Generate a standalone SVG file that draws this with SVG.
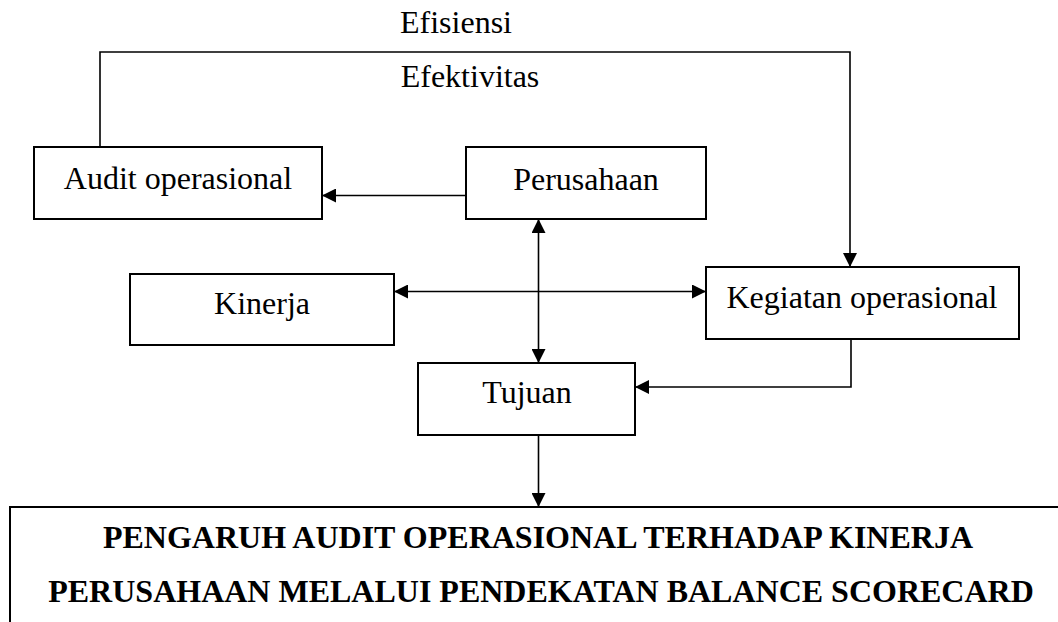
<svg xmlns="http://www.w3.org/2000/svg" width="1058" height="622" viewBox="0 0 1058 622">
<style>
.box{fill:#fff;stroke:#000;stroke-width:2}
.t{font-family:"Liberation Serif","Times New Roman",serif;font-size:32px;fill:#000;text-anchor:middle}
.b{font-weight:bold}
.c{fill:none;stroke:#000;stroke-width:1.6}
</style>
<defs>
<marker id="ah" viewBox="0 0 10 10" refX="10" refY="5" markerWidth="14" markerHeight="14" markerUnits="userSpaceOnUse" orient="auto-start-reverse">
<path d="M0,0 L10,5 L0,10 Z" fill="#000"/>
</marker>
</defs>
<rect width="1058" height="622" fill="#fff"/>
<g id="connectors">
<path class="c" d="M100,147 V52 H850 V267" marker-end="url(#ah)"/>
<path class="c" d="M466,195.5 H322" marker-end="url(#ah)"/>
<path class="c" d="M538.5,219 V363" marker-start="url(#ah)" marker-end="url(#ah)"/>
<path class="c" d="M394,291.5 H706" marker-start="url(#ah)" marker-end="url(#ah)"/>
<path class="c" d="M851,339 V387 H635" marker-end="url(#ah)"/>
<path class="c" d="M538.5,435 V507" marker-end="url(#ah)"/>
</g>
<g id="label-efisiensi"><text class="t" x="456" y="33">Efisiensi</text></g>
<g id="label-efektivitas"><text class="t" x="470" y="87">Efektivitas</text></g>
<g id="audit"><rect class="box" x="34" y="147" width="288" height="72"/><text class="t" x="178" y="189">Audit operasional</text></g>
<g id="perusahaan"><rect class="box" x="466" y="147" width="240" height="72"/><text class="t" x="586" y="190">Perusahaan</text></g>
<g id="kinerja"><rect class="box" x="130" y="274" width="264" height="71"/><text class="t" x="262" y="314">Kinerja</text></g>
<g id="kegiatan"><rect class="box" x="706" y="267" width="313" height="72"/><text class="t" x="862" y="308">Kegiatan operasional</text></g>
<g id="tujuan"><rect class="box" x="418" y="363" width="217" height="72"/><text class="t" x="527" y="403">Tujuan</text></g>
<g id="judul"><rect class="box" x="10" y="507" width="1060" height="130"/>
<text class="t b" x="538" y="548">PENGARUH AUDIT OPERASIONAL TERHADAP KINERJA</text>
<text class="t b" x="541" y="602">PERUSAHAAN MELALUI PENDEKATAN BALANCE SCORECARD</text></g>
</svg>
